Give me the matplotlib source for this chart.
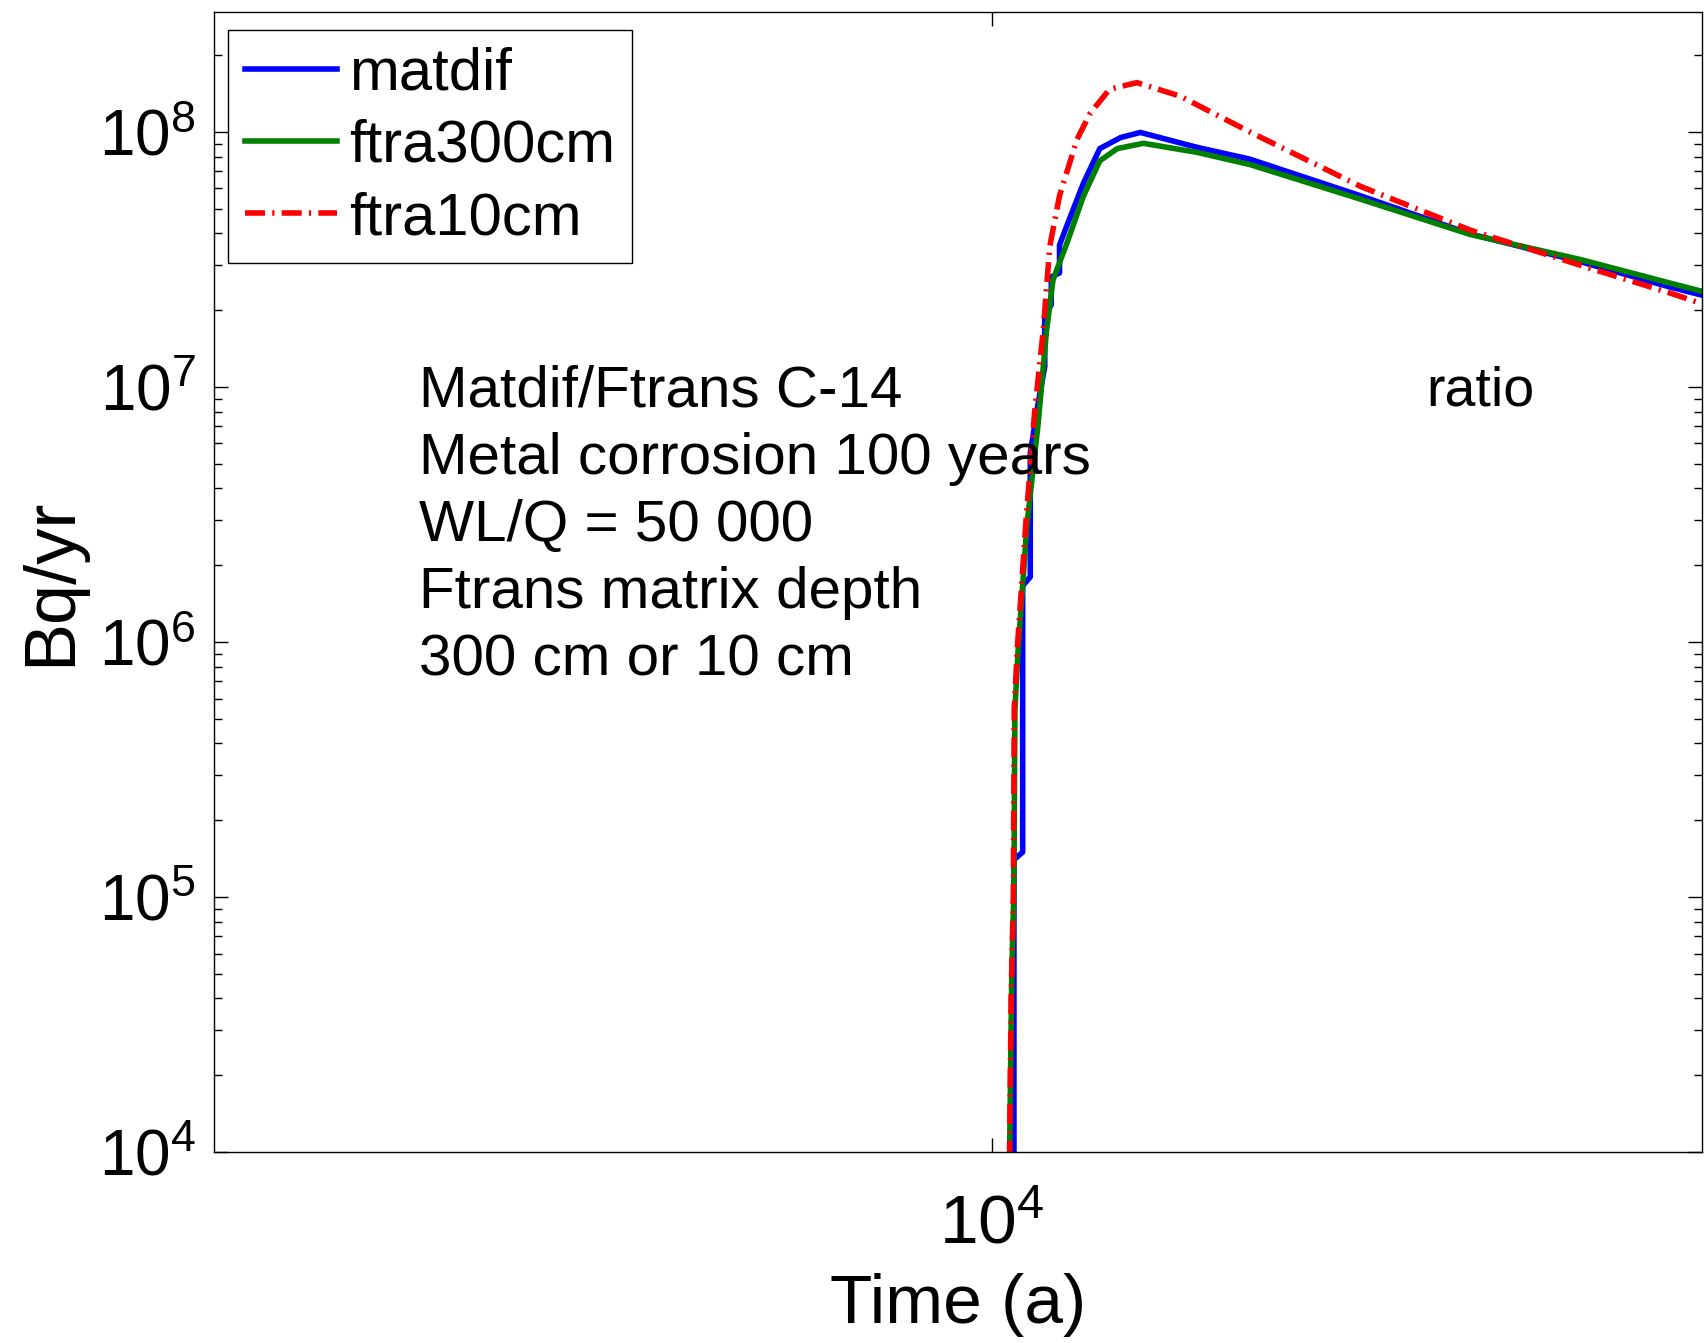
import matplotlib
matplotlib.use('Agg')
import matplotlib.pyplot as plt
from matplotlib.ticker import LogLocator, NullLocator, FuncFormatter
import math

plt.rcParams['font.family'] = ['Liberation Sans', 'DejaVu Sans']
plt.rcParams['mathtext.default'] = 'regular'

# C-14 release rate (Bq/yr) vs time (a)
t_matdif = [10345, 10345, 10486, 10486, 10610, 10610, 10735, 10850, 10850, 10960, 10960,
            11101, 11101, 11230, 11520, 11815, 12200, 12580, 13720, 14900, 17680, 20960,
            24850, 28580, 30000]
q_matdif = [1e3, 1.4e5, 1.5e5, 1.66e6, 1.8e6, 5.5e6, 8.5e6, 1.2e7, 1.9e7, 2.1e7, 2.7e7,
            2.8e7, 3.6e7, 4.3e7, 6.3e7, 8.6e7, 9.5e7, 9.95e7, 8.71e7, 7.82e7, 5.62e7, 3.98e7,
            3.1e7, 2.46e7, 2.29e7]

t_ftra300 = [10276, 10276, 10310, 10345, 10360, 10412, 10556, 10735, 10880, 10990, 11230,
             11520, 11815, 12140, 12640, 13720, 14900, 17680, 20960, 24850, 28580, 30000]
q_ftra300 = [1e3, 1e4, 5.0e4, 1.07e5, 5.4e5, 9.3e5, 2.9e6, 7.0e6, 1.66e7, 2.63e7, 3.67e7,
             5.6e7, 7.7e7, 8.6e7, 9.02e7, 8.32e7, 7.45e7, 5.45e7, 3.96e7, 3.16e7, 2.55e7, 2.37e7]

t_ftra10 = [10276, 10276, 10300, 10335, 10350, 10400, 10540, 10681, 10824, 10934, 11101,
            11404, 11637, 11995, 12511, 13384, 13720, 14900, 17680, 20960, 24850, 28580,
            30000]
q_ftra10 = [1e3, 1e4, 4e4, 1.0e5, 5.5e5, 9.5e5, 3.0e6, 7.94e6, 1.66e7, 3.55e7, 5.62e7,
            9.33e7, 1.18e8, 1.47e8, 1.56e8, 1.38e8, 1.28e8, 1.0e8, 6.12e7, 4.12e7, 3.0e7,
            2.33e7, 2.12e7]

note_lines = ['Matdif/Ftrans C-14', 'Metal corrosion 100 years', 'WL/Q = 50 000',
              'Ftrans matrix depth', '300 cm or 10 cm']

fig = plt.figure(figsize=(17.04, 13.43), dpi=100)
ax = fig.add_axes([0.1256, 0.1422, 0.8732, 0.8491])

ax.plot(t_matdif, q_matdif, color=(0, 0, 1), lw=4, label='matdif')
ax.plot(t_ftra300, q_ftra300, color=(0, 0.5, 0), lw=4, label='ftra300cm')
ax.plot(t_ftra10, q_ftra10, color=(1, 0, 0), lw=4, ls=(0, (3.6, 1.3, 0.4, 1.3)),
        label='ftra10cm')

ax.set_xscale('log')
ax.set_yscale('log')
ax.set_xlim(3000, 30000)
ax.set_ylim(1e4, 2.96e8)

ax.set_xticks([1e4])
ax.xaxis.set_minor_locator(NullLocator())
ax.yaxis.set_major_locator(LogLocator(base=10))
ax.yaxis.set_minor_locator(LogLocator(base=10, subs=range(2, 10)))
fmt = FuncFormatter(lambda v, p: r'$10^{%d}$' % round(math.log10(v)))
ax.xaxis.set_major_formatter(fmt)
ax.yaxis.set_major_formatter(fmt)

ax.tick_params(which='both', direction='in', top=True, right=True, width=1)
ax.tick_params(which='major', length=10)
ax.tick_params(which='minor', length=6)
ax.tick_params(axis='y', which='major', labelsize=46, pad=13)
ax.tick_params(axis='x', which='major', labelsize=50, pad=30)
for s in ax.spines.values():
    s.set_linewidth(1)

ax.set_xlabel('Time (a)', fontsize=50, labelpad=11)
ax.set_ylabel('Bq/yr', fontsize=52, labelpad=10)

ys = [0.667, 0.608, 0.549, 0.490, 0.431]
for y, s in zip(ys, note_lines):
    ax.text(0.138, y, s, transform=ax.transAxes, fontsize=42, va='center', ha='left')
ax.text(0.815, 0.667, 'ratio', transform=ax.transAxes, fontsize=40, va='center', ha='left')

leg = ax.legend(loc='upper left', bbox_to_anchor=(0.0094, 0.984), borderaxespad=0,
                fontsize=43, handlelength=1.55, handletextpad=0.2, labelspacing=0.29,
                borderpad=0.28, fancybox=False, framealpha=1, edgecolor='black')
leg.get_frame().set_linewidth(1)

fig.savefig('out.png', dpi=100)
